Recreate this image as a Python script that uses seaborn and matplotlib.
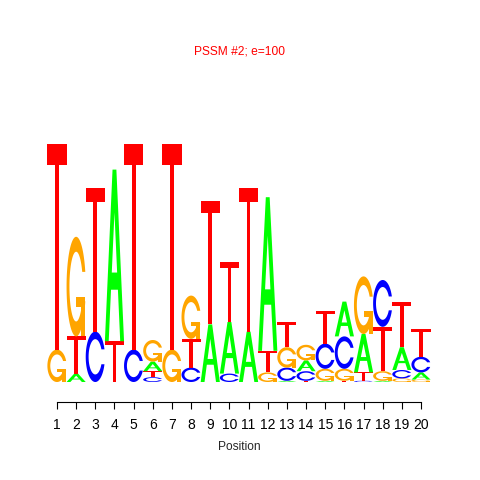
import numpy as np
import matplotlib
matplotlib.use("Agg")
import matplotlib.pyplot as plt
from matplotlib.patches import Polygon
import seaborn as sns

# information content (bits) per letter
positions = list(range(1, 21))
bits_A = [0, 0.07, 0, 1.43, 0, 0.08, 0, 0, 0.48, 0.43, 0.42, 1.28, 0.01, 0.09, 0.01, 0.29, 0.32, 0.01, 0.19, 0.06]
bits_C = [0, 0, 0.42, 0, 0.27, 0.04, 0, 0.12, 0, 0.07, 0, 0, 0.11, 0.08, 0.21, 0.27, 0.01, 0.39, 0.07, 0.13]
bits_G = [0.27, 0.83, 0, 0, 0, 0.18, 0.27, 0.36, 0, 0, 0, 0.08, 0.17, 0.13, 0.10, 0.10, 0.48, 0.08, 0.03, 0.02]
bits_T = [1.71, 0.31, 1.20, 0.34, 1.71, 0.05, 1.71, 0.24, 1.03, 0.50, 1.20, 0.18, 0.21, 0.01, 0.27, 0.01, 0.07, 0.37, 0.38, 0.23]
title = "PSSM #2; e=100"
xlabel = "Position"

colors = {"A": "#00FF00", "C": "#0000FF", "G": "#FFA500", "T": "#FF0000"}


def c_outline():
    a1 = np.linspace(0.3 + np.pi / 2, np.pi, 100)
    a2 = np.linspace(np.pi, 1.5 * np.pi, 100)
    xl1, yl1 = 0.5 + 0.5 * np.sin(a1), 0.5 + 0.5 * np.cos(a1)
    xl = np.concatenate([xl1, 0.5 + 0.5 * np.sin(a2)])
    yl = np.concatenate([yl1, 0.5 + 0.5 * np.cos(a2)])
    x = np.concatenate([xl, xl[::-1]])
    y = np.concatenate([yl, 1 - yl[::-1]])
    xi1, yi1 = 0.5 + 0.35 * np.sin(a1), 0.5 + 0.35 * np.cos(a1)
    keep = yi1 <= yl1.max()
    xi1, yi1 = xi1[keep], yi1[keep].copy()
    yi1[0] = yl1.max()
    xi = np.concatenate([xi1, 0.5 + 0.35 * np.sin(a2)])
    yi = np.concatenate([yi1, 0.5 + 0.35 * np.cos(a2)])
    x1 = np.concatenate([xi, xi[::-1]])
    y1 = np.concatenate([yi, 1 - yi[::-1]])
    return np.concatenate([x, x1[::-1]]), np.concatenate([y, y1[::-1]]), xl1.max()


def letter_shapes(letter):
    # unit-box polygons, (x, y, fill)
    if letter == "A":
        x = np.array([0, 4, 6, 10, 8, 6.8, 3.2, 2, 0]) * 0.1
        y = np.array([0, 10, 10, 0, 0, 3, 3, 0, 0]) * 0.1
        hx = np.array([3.6, 5, 6.4, 3.6]) * 0.1
        hy = np.array([4, 7.5, 4, 4]) * 0.1
        return [(x, y, colors["A"]), (hx, hy, "white")]
    if letter == "T":
        x = np.array([0, 10, 10, 6, 6, 4, 4, 0]) * 0.1
        y = np.array([10, 10, 9, 9, 0, 0, 9, 9]) * 0.1
        return [(x, y, colors["T"])]
    x, y, r1 = c_outline()
    if letter == "C":
        return [(x, y, colors["C"])]
    h1 = 0.4
    xa = np.array([r1, 0.5, 0.5, r1 - 0.2, r1 - 0.2, r1, r1])
    ya = np.array([h1, h1, h1 - 0.1, h1 - 0.1, 0, 0, h1])
    return [(x, y, colors["G"]), (xa, ya, colors["G"])]


sns.set_style("white")
plt.rcParams["font.family"] = ["Liberation Sans", "DejaVu Sans"]

fig = plt.figure(figsize=(4.8, 4.8), dpi=100)
ax = fig.add_axes([47.4 / 480, 98 / 480, 383.2 / 480, 0.5])

for i, pos in enumerate(positions):
    col = {"A": bits_A[i], "C": bits_C[i], "G": bits_G[i], "T": bits_T[i]}
    base = 0.0
    for letter, h in sorted(col.items(), key=lambda kv: kv[1]):
        if h <= 0:
            continue
        for x, y, fill in letter_shapes(letter):
            ax.add_patch(Polygon(np.column_stack([pos - 0.5 + x, base + h * y]),
                                 closed=True, facecolor=fill, edgecolor="none", lw=0))
        base += h

ax.set_xlim(0.5, 20.5)
ax.set_ylim(0, 2)
ax.set_yticks([])
ax.set_xticks(positions)
ax.set_xticklabels([str(p) for p in positions], fontsize=8.64)
ax.tick_params(axis="x", direction="out", length=4.7, width=0.8, pad=6.5, colors="black", bottom=True)
sns.despine(ax=ax, left=True, top=True, right=True)
ax.spines["bottom"].set_position(("outward", 14.4))
ax.spines["bottom"].set_bounds(1, 20)
ax.spines["bottom"].set_color("black")
ax.spines["bottom"].set_linewidth(0.8)
ax.set_facecolor("white")

fig.text(239 / 480, 1 - 450 / 480, xlabel, ha="center", va="baseline", fontsize=8.64)
fig.text(240 / 480, 1 - 52 / 480, title, ha="center", va="center", fontsize=8.64, color="#FF0000")

fig.savefig("out.png", dpi=100, facecolor="white")
